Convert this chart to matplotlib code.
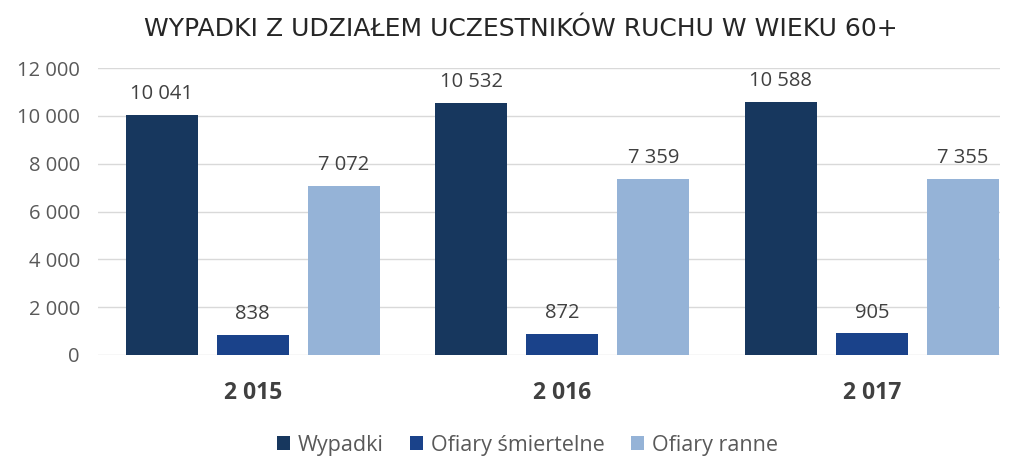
import matplotlib.pyplot as plt
import numpy as np

# dane
lata = ['2 015', '2 016', '2 017']
wypadki = [10041, 10532, 10588]
smiertelne = [838, 872, 905]
ranne = [7072, 7359, 7355]
serie = ['Wypadki', 'Ofiary śmiertelne', 'Ofiary ranne']
kolory = ['#17375E', '#1A428A', '#95B3D7']
y_ticks = [0, 2000, 4000, 6000, 8000, 10000, 12000]


def fmt(v):
    return '{:,}'.format(v).replace(',', ' ')


plt.rcParams['font.family'] = ['Open Sans', 'DejaVu Sans']

fig = plt.figure(figsize=(10.12, 4.59), dpi=100)
ax = fig.add_axes([98 / 1012, 1 - 355 / 459, 902 / 1012, (355 - 68) / 459])

x = np.arange(len(lata))
szer = 0.232
krok = 0.294
for i, (vals, kol) in enumerate(zip([wypadki, smiertelne, ranne], kolory)):
    bars = ax.bar(x + (i - 1) * krok, vals, width=szer, color=kol, label=serie[i], zorder=3)
    for b, v in zip(bars, vals):
        ax.text(b.get_x() + b.get_width() / 2, v + 450, fmt(v),
                ha='center', va='bottom', fontsize=14.5, color='#404040')

ax.set_xlim(-0.5, 2.414)
ax.set_ylim(0, 12000)
ax.set_yticks(y_ticks)
ax.set_yticklabels([fmt(v) for v in y_ticks], fontsize=14.5, color='#595959')
ax.set_xticks(x)
ax.set_xticklabels(lata, fontsize=16.5, fontweight='bold', color='#404040')
ax.tick_params(axis='both', length=0)
ax.tick_params(axis='x', pad=19)
ax.tick_params(axis='y', pad=13)
ax.grid(axis='y', color='#d9d9d9', linewidth=1, zorder=0)
for s in ax.spines.values():
    s.set_visible(False)

fig.text(0.515, 0.937, 'WYPADKI Z UDZIAŁEM UCZESTNIKÓW RUCHU W WIEKU 60+',
         ha='center', va='center', fontsize=18, color='#262626',
         family=['DejaVu Sans'])

fig.legend(loc='center', bbox_to_anchor=(0.521, 0.03), ncol=3, frameon=False,
           fontsize=15.5, handlelength=0.6, handleheight=0.6, handletextpad=0.35,
           columnspacing=1.25, labelcolor='#595959')

fig.savefig('out.png', dpi=100)
